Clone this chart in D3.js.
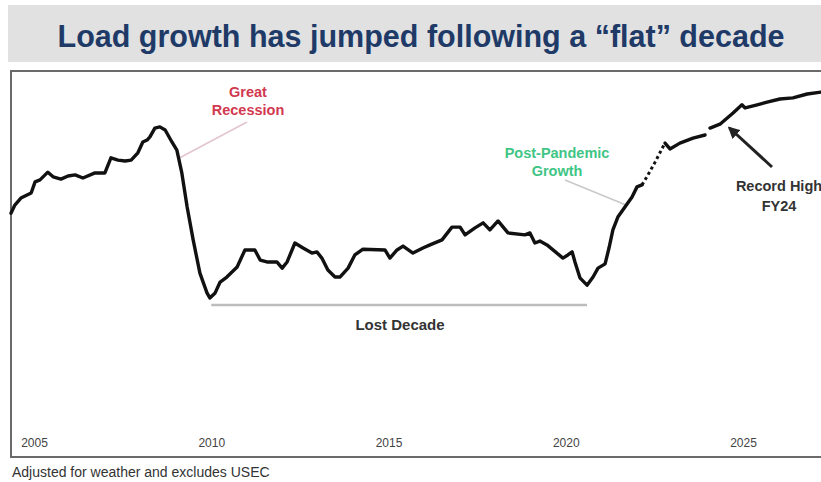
<!DOCTYPE html>
<html><head><meta charset="utf-8">
<script src="https://cdn.jsdelivr.net/npm/d3@7/dist/d3.min.js"></script>
<style>
body{margin:0;background:#fff;}
svg{display:block;font-family:"Liberation Sans",Arial,sans-serif;}
</style>
</head><body>
<svg id="c" width="821" height="482"></svg>
<script>
// ---- data ----
const years = [2004.35,2004.46,2004.63,2004.92,2005.03,2005.17,2005.39,2005.54,2005.76,2005.96,
  2006.16,2006.38,2006.72,2007.00,2007.17,2007.37,2007.57,2007.74,2007.93,2008.07,
  2008.19,2008.27,2008.41,2008.55,2008.70,2008.89,2009.03,2009.17,2009.32,2009.49,
  2009.68,2009.88,2009.96,2010.11,2010.25,2010.44,2010.73,2010.95,2011.23,2011.38,
  2011.57,2011.85,2012.00,2012.14,2012.36,2012.59,2012.84,2012.98,2013.12,2013.29,
  2013.49,2013.63,2013.86,2014.05,2014.28,2014.90,2015.04,2015.24,2015.41,2015.69,
  2015.97,2016.17,2016.51,2016.79,2017.02,2017.16,2017.44,2017.67,2017.86,2018.09,
  2018.37,2018.85,2018.99,2019.13,2019.27,2019.47,2019.92,2020.06,2020.18,2020.26,
  2020.40,2020.60,2020.77,2020.91,2021.11,2021.22,2021.33,2021.47,2021.67,2021.87,
  2022.01,2022.15,2022.29,2022.52,2022.74,2022.80,2022.94,2023.22,2023.59,2023.93,
  2024.07,2024.35,2024.72,2024.97,2025.06,2025.40,2025.68,2026.04,2026.41,2026.81,2027.20];
const load = [63.0,65.1,66.9,68.2,71.1,71.6,73.6,72.4,71.8,72.6,
  72.9,72.1,73.4,73.4,77.3,76.7,76.5,76.7,78.6,81.4,
  81.9,82.7,85.0,85.3,84.5,81.4,79.3,73.4,64.6,56.1,
  47.5,42.4,41.1,42.4,45.2,46.5,49.1,53.5,53.5,50.9,
  50.4,50.4,48.8,50.4,55.3,54.0,52.7,53.0,51.4,48.3,
  46.5,46.5,48.8,52.2,53.7,53.5,51.4,53.5,54.5,52.7,
  54.0,54.8,56.1,59.4,59.4,57.4,59.2,60.5,58.7,61.0,
  57.9,57.4,57.9,55.3,55.8,54.8,51.4,52.2,53.0,50.4,
  46.3,44.4,46.5,48.8,49.9,54.0,58.7,62.0,64.6,67.2,
  69.8,70.3,72.4,76.2,80.1,81.1,79.6,81.1,82.4,83.2,
  85.0,86.0,88.9,91.0,90.2,91.0,91.7,92.5,92.8,93.8,94.3];
const tickYears = [2005, 2010, 2015, 2020, 2025];
const dottedSpan = [2022.15, 2022.80];
const gapSpan = [2023.93, 2024.07];
const lostDecade = [2010.0, 2020.6];

const titleText = "Load growth has jumped following a \u201cflat\u201d decade";
const footText = "Adjusted for weather and excludes USEC";

// ---- drawing ----
const svg = d3.select("#c");
const data = years.map((y, i) => ({year: y, v: load[i]}));

const x = d3.scaleLinear().domain([2005, 2025]).range([34, 743]);
const y = d3.scaleLinear().domain([0, 100]).range([457, 70]);

// title band
svg.append("rect").attr("x", 8).attr("y", 5).attr("width", 813).attr("height", 57).attr("fill", "#e1e1e1");
svg.append("text").attr("x", 421).attr("y", 47).attr("text-anchor", "middle")
  .attr("font-size", 30.5).attr("font-weight", "bold").attr("fill", "#203a68").text(titleText);

// frame
svg.append("rect").attr("x", 11).attr("y", 71).attr("width", 840).attr("height", 386)
  .attr("fill", "#fff").attr("stroke", "#6a6a6a").attr("stroke-width", 2);

// axis labels
const ax = svg.append("g").attr("transform", "translate(0,447)")
  .call(d3.axisBottom(x).tickValues(tickYears).tickFormat(d3.format("d")).tickSize(0).tickPadding(0));
ax.select(".domain").remove();
ax.selectAll("text").attr("y", 0).attr("dy", 0).attr("font-size", 12)
  .attr("fill", "#444").attr("font-family", "'Liberation Sans', Arial, sans-serif");

// Lost decade bar
svg.append("line").attr("x1", x(lostDecade[0])).attr("x2", x(lostDecade[1]))
  .attr("y1", 305).attr("y2", 305).attr("stroke", "#bdbdbd").attr("stroke-width", 2.5);
svg.append("text").attr("x", 400).attr("y", 330).attr("text-anchor", "middle")
  .attr("font-size", 15).attr("font-weight", "bold").attr("fill", "#333").text("Lost Decade");

// leaders
svg.append("line").attr("x1", x(2009.1)).attr("y1", 158).attr("x2", 247).attr("y2", 122)
  .attr("stroke", "#e3c6cd").attr("stroke-width", 1.6);
svg.append("line").attr("x1", 565).attr("y1", 180).attr("x2", x(2021.7)).attr("y2", 205)
  .attr("stroke", "#c9c9c9").attr("stroke-width", 1.6);

// line segments
const line = d3.line().x(d => x(d.year)).y(d => y(d.v)).curve(d3.curveLinear);
const segs = [
  data.filter(d => d.year <= dottedSpan[0]),
  data.filter(d => d.year >= dottedSpan[1] && d.year <= gapSpan[0]),
  data.filter(d => d.year >= gapSpan[1])
];
svg.selectAll("path.seg").data(segs).join("path").attr("class", "seg")
  .attr("d", line).attr("fill", "none").attr("stroke", "#111").attr("stroke-width", 3.4)
  .attr("stroke-linejoin", "round").attr("stroke-linecap", "round");
svg.append("path").datum(data.filter(d => d.year >= dottedSpan[0] && d.year <= dottedSpan[1]))
  .attr("d", line).attr("fill", "none").attr("stroke", "#111").attr("stroke-width", 3)
  .attr("stroke-dasharray", "3,3");

// annotations
const red = svg.append("text").attr("text-anchor", "middle").attr("font-size", 14.5)
  .attr("font-weight", "bold").attr("fill", "#d2384f");
red.append("tspan").attr("x", 248).attr("y", 97).text("Great");
red.append("tspan").attr("x", 248).attr("y", 115).text("Recession");

const green = svg.append("text").attr("text-anchor", "middle").attr("font-size", 14.5)
  .attr("font-weight", "bold").attr("fill", "#3fc585");
green.append("tspan").attr("x", 557).attr("y", 158).text("Post-Pandemic");
green.append("tspan").attr("x", 557).attr("y", 176).text("Growth");

// Record high arrow
svg.append("defs").append("marker").attr("id", "ah").attr("viewBox", "0 0 10 10")
  .attr("refX", 8).attr("refY", 5).attr("markerWidth", 4).attr("markerHeight", 4)
  .attr("orient", "auto").append("path").attr("d", "M0,0 L10,5 L0,10 z").attr("fill", "#222");
svg.append("line").attr("x1", 772).attr("y1", 167).attr("x2", x(2024.62)).attr("y2", 128)
  .attr("stroke", "#222").attr("stroke-width", 3).attr("marker-end", "url(#ah)");
const rec = svg.append("text").attr("text-anchor", "middle").attr("font-size", 14.5)
  .attr("font-weight", "bold").attr("fill", "#333");
rec.append("tspan").attr("x", 779).attr("y", 191).text("Record High");
rec.append("tspan").attr("x", 779).attr("y", 211).text("FY24");

// footnote
svg.append("text").attr("x", 12).attr("y", 477).attr("font-size", 14).attr("fill", "#333").text(footText);
</script>
</body></html>
